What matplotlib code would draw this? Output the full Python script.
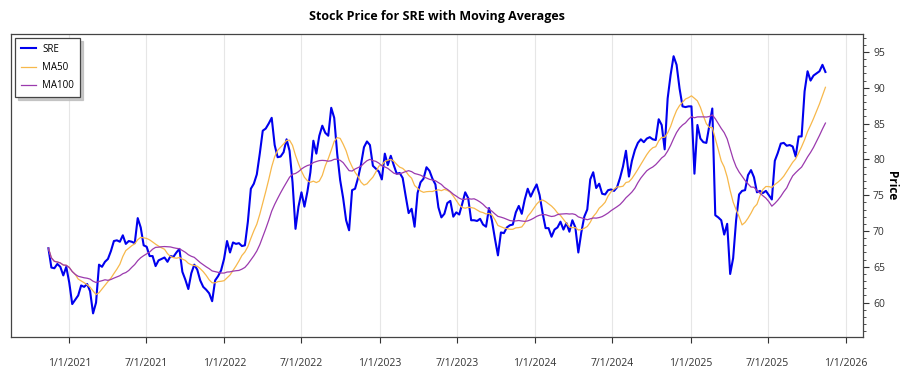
import matplotlib
matplotlib.use("Agg")
import matplotlib.pyplot as plt
import matplotlib.dates as mdates
from matplotlib.ticker import MultipleLocator
import pandas as pd

# weekly closes (Fridays)
prices_2020 = [67.6, 64.9, 64.8, 65.4, 65.0, 63.8, 65.0]
prices_2021 = [62.8, 59.8, 60.4, 61.0, 62.4, 62.2, 62.6, 61.6, 58.5, 60.0,
               65.3, 65.0, 65.7, 66.1, 67.2, 68.6, 68.7, 68.5, 69.4, 68.2,
               68.6, 68.5, 68.3, 71.8, 70.5, 68.0, 67.8, 66.5, 66.5, 65.1,
               65.9, 66.1, 66.3, 65.7, 66.5, 66.4, 67.0, 67.5, 64.3, 63.2,
               61.9, 64.1, 65.3, 64.6, 63.1, 62.2, 61.8, 61.3, 60.2, 63.1,
               63.7, 64.5, 66.1]
prices_2022 = [68.6, 67.0, 68.4, 68.2, 68.3, 67.9, 68.0, 71.3, 75.9, 76.6,
               77.9, 80.8, 84.0, 84.3, 85.0, 85.8, 82.0, 80.3, 80.4, 81.0,
               82.8, 81.2, 76.8, 70.3, 73.4, 75.4, 73.4, 75.5, 78.2, 82.6,
               80.8, 83.3, 84.7, 83.7, 83.3, 87.2, 85.8, 80.8, 77.1, 74.6,
               71.5, 70.1, 75.7, 75.9, 77.4, 79.3, 81.7, 82.5, 82.0, 79.1,
               78.7, 78.3]
prices_2023 = [77.2, 80.8, 79.2, 80.5, 79.2, 78.0, 78.1, 77.4, 74.9, 72.5,
               73.1, 70.6, 75.3, 76.8, 77.3, 78.9, 78.4, 77.3, 76.5, 73.3,
               71.9, 72.4, 73.9, 74.2, 72.0, 72.6, 72.3, 73.8, 75.4, 74.6,
               71.5, 71.5, 71.4, 71.7, 70.9, 70.6, 73.2, 71.4, 68.9, 66.6,
               69.8, 69.7, 70.5, 70.8, 70.9, 72.6, 73.5, 72.4, 74.4, 75.9,
               74.8, 75.7]
prices_2024 = [76.5, 75.0, 72.5, 70.4, 70.4, 69.2, 70.2, 70.5, 71.3, 70.2,
               71.1, 69.9, 71.5, 70.5, 67.0, 69.8, 72.0, 73.0, 77.2, 78.2,
               76.0, 76.6, 75.2, 75.1, 75.7, 75.8, 75.6, 76.1, 77.4, 79.0,
               81.2, 77.6, 79.8, 81.3, 82.3, 82.8, 82.4, 82.9, 83.1, 82.8,
               82.7, 85.6, 84.8, 81.4, 88.5, 91.8, 94.4, 93.2, 89.9, 87.4,
               87.3, 87.4]
prices_2025 = [87.4, 78.0, 84.8, 82.9, 82.4, 82.3, 84.7, 87.1, 72.2, 71.9,
               71.5, 69.5, 71.0, 64.0, 66.2, 71.5, 75.1, 75.6, 75.7, 77.8,
               78.5, 77.5, 75.4, 75.6, 75.3, 75.6, 75.0, 74.4, 79.8, 80.9,
               82.2, 82.3, 81.9, 82.0, 81.8, 80.4, 83.2, 83.2, 89.5, 92.3,
               91.0, 91.7, 92.0, 92.3, 93.2, 92.2]

closes = (prices_2020 + prices_2021 + prices_2022 + prices_2023
          + prices_2024 + prices_2025)
dates = pd.date_range("2020-11-13", periods=len(closes), freq="W-FRI")
series = pd.Series(closes, index=dates)

# 50 and 100 trading days ~ 10 and 20 weeks
ma50 = series.rolling(10, min_periods=1).mean()
ma100 = series.rolling(20, min_periods=1).mean()

plt.rcParams["font.family"] = ["Open Sans", "DejaVu Sans"]

fig = plt.figure(figsize=(9, 3.75), dpi=100)
ax = fig.add_axes([0.0122, 0.1013, 0.9470, 0.8080])

ax.plot(series.index, series.values, color="#0000EE", linewidth=1.5, label="SRE")
ax.plot(ma50.index, ma50.values, color="#F7B84B", linewidth=0.9, label="MA50")
ax.plot(ma100.index, ma100.values, color="#9B3AAE", linewidth=0.9, label="MA100")

ax.set_xlim(pd.Timestamp("2020-08-17"), pd.Timestamp("2026-02-11"))
ax.set_ylim(55.2, 97.5)

ax.xaxis.set_major_locator(mdates.MonthLocator(bymonth=[1, 7]))
ax.xaxis.set_major_formatter(
    plt.FuncFormatter(lambda v, p: f"{mdates.num2date(v).month}/1/{mdates.num2date(v).year}"))
ax.tick_params(axis="x", length=4, pad=11, labelsize=7.5, colors="#333333")

ax.yaxis.tick_right()
ax.yaxis.set_label_position("right")
ax.yaxis.set_major_locator(MultipleLocator(5))
ax.yaxis.set_minor_locator(MultipleLocator(1))
ax.tick_params(axis="y", which="major", length=4, pad=3, labelsize=7.5, colors="#333333")
ax.tick_params(axis="y", which="minor", length=2, colors="#333333")
ax.set_ylabel("Price", rotation=270, labelpad=9, fontsize=8.5, fontweight="bold")

ax.grid(axis="x", color="#e6e6e6", linewidth=0.8)
ax.set_axisbelow(True)
for s in ax.spines.values():
    s.set_color("#444444")
    s.set_linewidth(0.9)

ax.set_title("Stock Price for SRE with Moving Averages", fontsize=9,
             fontweight="bold", pad=10)

leg = ax.legend(loc="upper left", fontsize=7, frameon=True, fancybox=False,
                shadow={"color": "#bbbbbb", "alpha": 0.8},
                borderaxespad=0.4, handlelength=1.6, handletextpad=0.6,
                labelspacing=0.75, borderpad=0.6)
leg.get_frame().set_edgecolor("#444444")
leg.get_frame().set_linewidth(0.9)

fig.savefig("out.png", dpi=100)
